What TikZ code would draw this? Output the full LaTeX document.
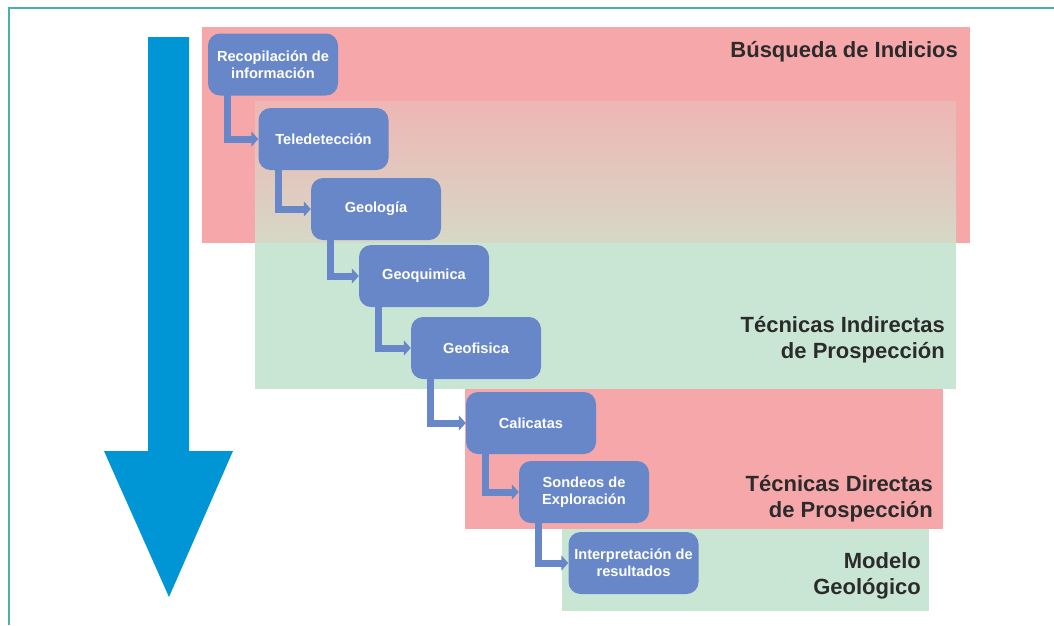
\documentclass[tikz,border=0pt]{standalone}
\usepackage{fontspec}
\setmainfont{Liberation Sans}
\usetikzlibrary{arrows.meta}
\definecolor{frameteal}{RGB}{75,176,168}
\definecolor{bandred}{RGB}{245,167,170}
\definecolor{bandgreen}{RGB}{201,230,212}
\definecolor{gradtop}{RGB}{238,182,181}
\definecolor{gradbot}{RGB}{214,216,198}
\definecolor{stepblue}{RGB}{104,135,200}
\definecolor{bigblue}{RGB}{0,149,213}
\definecolor{labeltext}{RGB}{43,43,43}
\tikzset{
  stepbox/.style={draw=none, fill=stepblue, rounded corners=12pt,
    minimum width=130pt, minimum height=62pt, inner sep=2pt,
    text=white, align=center,
    font=\fontsize{14.6}{17}\selectfont\bfseries},
  conn/.style={draw=stepblue, line width=7pt, line join=miter,
    -{Triangle[length=7pt,width=15pt]}},
  bandlabel/.style={anchor=east, align=right, text=labeltext, inner sep=0pt,
    font=\fontsize{22}{26}\selectfont\bfseries}
}
\begin{document}
\begin{tikzpicture}[x=1pt,y=-1pt]
\useasboundingbox (0,0) rectangle (1054,625);
\fill[white] (0,0) rectangle (1054,625);
% frame
\draw[frameteal, line width=2pt] (9,625) -- (9,8) -- (1054,8);
% bands
\fill[bandred] (202,27) rectangle (970,243);
\shade[top color=gradtop, bottom color=gradbot] (255,101) rectangle (956,243);
\fill[bandgreen] (255,243) rectangle (956,389);
\fill[bandred] (465,389) rectangle (943,529);
\fill[bandgreen] (562,529) rectangle (929,611);
% big arrow
\fill[bigblue] (148,37) -- (189,37) -- (189,451) -- (233,451) -- (169,597)
  -- (104,451) -- (148,451) -- cycle;
% band labels
\node[bandlabel] (lb1) at (958,52) {Búsqueda de Indicios};
\node[bandlabel] (lb2) at (945,340) {Técnicas Indirectas\\de Prospección};
\node[bandlabel] (lb3) at (933,499) {Técnicas Directas\\de Prospección};
\node[bandlabel] (lb4) at (921,576) {Modelo\\Geológico};
% steps
\node[stepbox] (n1) at (273,64.5) {Recopilación de\\información};
\node[stepbox] (n2) at (323.5,139) {Teledetección};
\node[stepbox] (n3) at (376,209) {Geología};
\node[stepbox] (n4) at (424,276) {Geoquimica};
\node[stepbox] (n5) at (476,348) {Geofisica};
\node[stepbox] (n6) at (531,423) {Calicatas};
\node[stepbox] (n7) at (584,492) {Sondeos de\\Exploración};
\node[stepbox] (n8) at (633.5,563) {Interpretación de\\resultados};
% connectors
\foreach \a/\b in {n1/n2,n2/n3,n3/n4,n4/n5,n5/n6,n6/n7,n7/n8}{
  \draw[conn] ([xshift=20pt,yshift=3pt]\a.south west) |- (\b.west);
}
\end{tikzpicture}
\end{document}
